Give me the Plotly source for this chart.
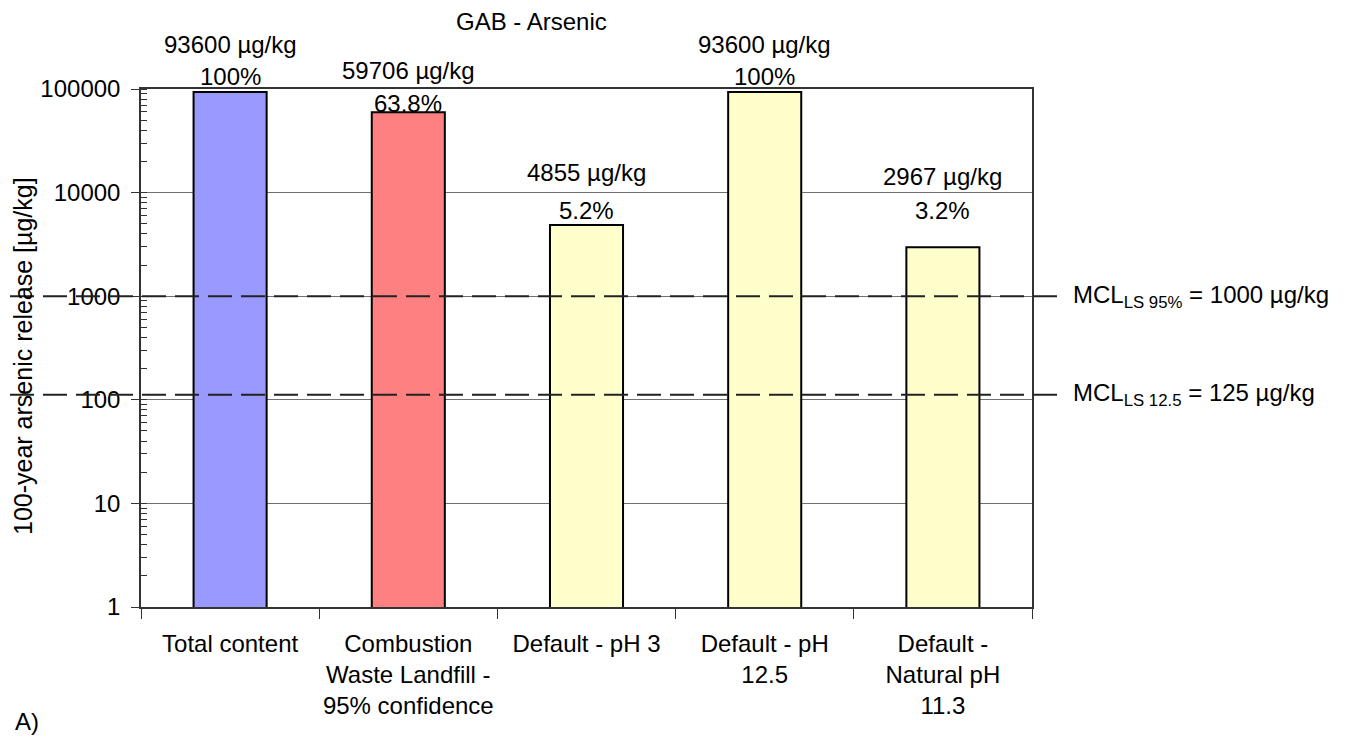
import plotly.graph_objects as go
import math

categories = ["Total content", "Combustion<br>Waste Landfill -<br>95% confidence", "Default - pH 3",
              "Default - pH<br>12.5", "Default -<br>Natural pH<br>11.3"]
values = [93600, 59706, 4855, 93600, 2967]
pct_labels = ["100%", "63.8%", "5.2%", "100%", "3.2%"]
value_labels = ["93600 µg/kg", "59706 µg/kg", "4855 µg/kg", "93600 µg/kg", "2967 µg/kg"]
mcl_values = [1000, 112]
mcl_labels = ["MCL<sub>LS 95%</sub> = 1000 µg/kg", "MCL<sub>LS 12.5</sub> = 125 µg/kg"]
ytick_vals = [1, 10, 100, 1000, 10000, 100000]

bar_colors = ["#9999FF", "#FF8080", "#FFFFCC", "#FFFFCC", "#FFFFCC"]
pct_shift = [15, 9, 15, 15, 37]
val_shift = [47, 42, 53, 47, 71]

FONT = "Liberation Sans, Arial, sans-serif"
fs = 24

# page layout (page pixels; the html body adds an 8px margin)
BODY = 8
PL, PR, PT, PB = 141, 1032, 89, 607
W, H = 1356, 737
pw, ph = PR - PL, PB - PT


def px(x):
    return (x - PL) / pw


def py(y):
    return (PB - y) / ph


fig = go.Figure()
fig.add_trace(go.Bar(
    x=categories, y=values, width=0.41,
    marker=dict(color=bar_colors, line=dict(color="black", width=2)),
    showlegend=False, hoverinfo="skip",
))

annotations = []
for c, v, p, vl, ps, vs in zip(categories, values, pct_labels, value_labels, pct_shift, val_shift):
    annotations.append(dict(x=c, y=math.log10(v), xref="x", yref="y", text=p, showarrow=False,
                            yshift=ps, font=dict(size=fs, color="black", family=FONT)))
    annotations.append(dict(x=c, y=math.log10(v), xref="x", yref="y", text=vl, showarrow=False,
                            yshift=vs, font=dict(size=fs, color="black", family=FONT)))

shapes = []
for m, lab in zip(mcl_values, mcl_labels):
    shapes.append(dict(type="line", xref="paper", yref="y", x0=px(10), x1=px(1062),
                       y0=m, y1=m, line=dict(color="#222222", width=2, dash="24px,9px")))
    annotations.append(dict(x=px(1071), y=math.log10(m), xref="paper", yref="y", text=lab,
                            showarrow=False, xanchor="left",
                            font=dict(size=fs, color="black", family=FONT)))

annotations.append(dict(x=px(531), y=py(21), xref="paper", yref="paper", yanchor="middle",
                        xanchor="center", text="GAB - Arsenic", showarrow=False,
                        font=dict(size=fs, color="black", family=FONT)))
annotations.append(dict(x=px(27), y=py(721), xref="paper", yref="paper", yanchor="middle",
                        xanchor="center", text="A)", showarrow=False,
                        font=dict(size=fs, color="black", family=FONT)))
annotations.append(dict(x=px(23), y=py(356), xref="paper", yref="paper", yanchor="middle",
                        xanchor="center", textangle=-90,
                        text="100-year arsenic release [µg/kg]", showarrow=False,
                        font=dict(size=25, color="black", family=FONT)))

fig.update_layout(
    width=W, height=H,
    margin=dict(l=PL - BODY, r=W - (PR - BODY), t=PT - BODY, b=H - (PB - BODY)),
    paper_bgcolor="white", plot_bgcolor="white",
    font=dict(family=FONT, size=fs, color="black"),
    shapes=shapes,
    annotations=annotations,
)

fig.update_xaxes(
    type="category", tickson="boundaries", ticks="outside", ticklen=10, tickcolor="#333333",
    showline=True, linecolor="#333333", linewidth=1.5, mirror=True, ticklabelstandoff=14,
    tickangle=0, automargin=False,
    showgrid=False, tickfont=dict(size=fs, family=FONT, color="black"),
)
fig.update_yaxes(
    type="log", range=[0, 5], tickvals=ytick_vals, ticktext=[str(v) for v in ytick_vals],
    ticks="outside", ticklen=8, tickcolor="#333333", ticklabelstandoff=6, automargin=False,
    showline=True, linecolor="#333333", linewidth=1.5, mirror=True,
    showgrid=True, gridcolor="#707070", gridwidth=1,
    minor=dict(ticks="inside", ticklen=6, tickcolor="#333333", dtick="D1", showgrid=False),
    tickfont=dict(size=fs, family=FONT, color="black"),
    zeroline=False,
)

fig.write_html("out.html")
